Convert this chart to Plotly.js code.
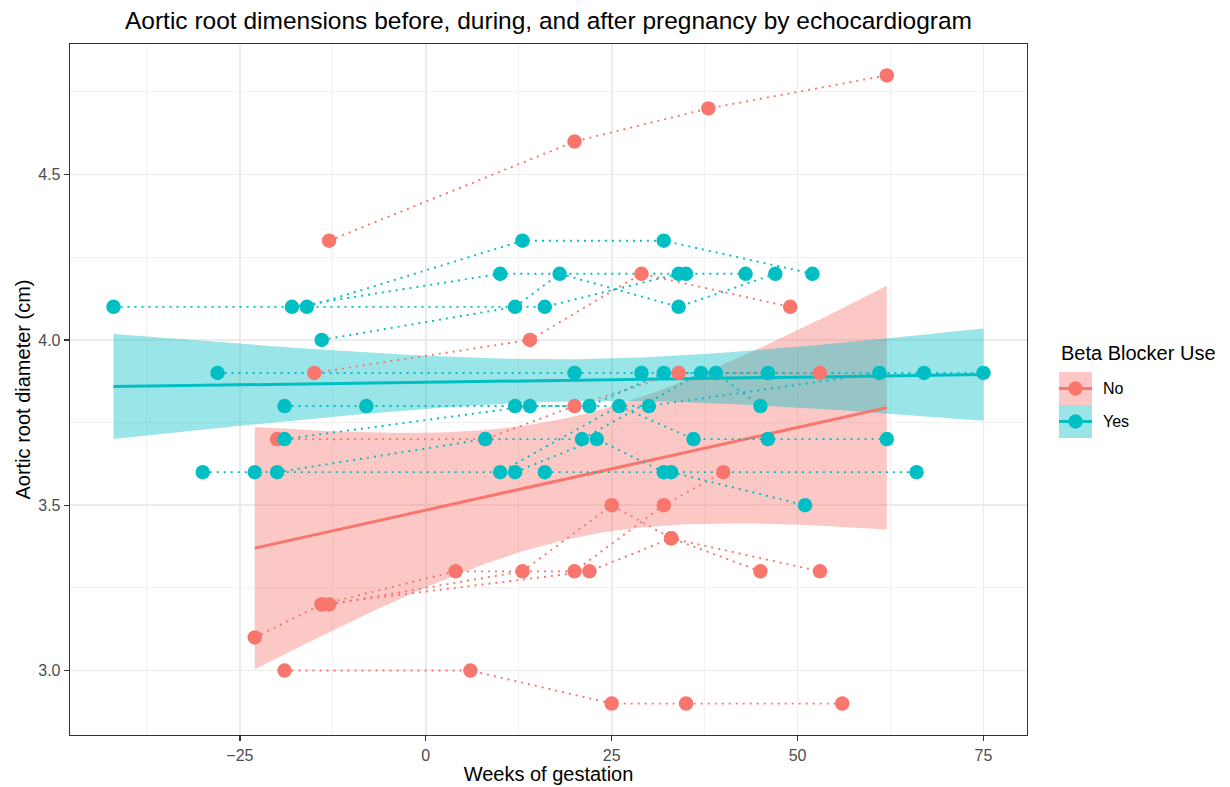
<!DOCTYPE html>
<html><head><meta charset="utf-8">
<script src="https://cdn.plot.ly/plotly-3.0.1.min.js"></script>
<style>html,body{margin:0;padding:0;background:#fff}#chart{width:1230px;height:787px}</style>
</head><body><div id="chart"></div>
<script>
// ---- data (one inner array per patient) ----
const groupNames = ["No", "Yes"];
const groupColors = ["#F8766D", "#00BFC4"];
const ribbonColors = ["rgba(248,118,109,0.4)", "rgba(0,191,196,0.4)"];

// Beta Blocker Use = No
const noWeeks = [[-13,20,38,62],[-15,14,29,49],[-20,8,20,34,53],[-19,6,25,35,56],[-13,13,25,33,45],[-23,-14,4,20,32,40],[-14,22,33,53]];
const noDiam  = [[4.3,4.6,4.7,4.8],[3.9,4.0,4.2,4.1],[3.7,3.7,3.8,3.9,3.9],[3.0,3.0,2.9,2.9,2.9],[3.2,3.3,3.5,3.4,3.3],[3.1,3.2,3.3,3.3,3.5,3.6],[3.2,3.3,3.4,3.3]];

// Beta Blocker Use = Yes
const yesWeeks = [[-16,13,32,52],[-18,10,35,43],[-42,16,34],[-14,12,18,34,47],[-28,20,29,39,45],[-19,-8,12,22,32,46],[-19,14,30,61],[-20,8,21,37,67,75],[-30,-23,10,26,36,46,62],[12,23,32,66],[16,33,51]];
const yesDiam  = [[4.1,4.3,4.3,4.2],[4.1,4.2,4.2,4.2],[4.1,4.1,4.2],[4.0,4.1,4.2,4.1,4.2],[3.9,3.9,3.9,3.9,3.8],[3.8,3.8,3.8,3.8,3.9,3.9],[3.7,3.8,3.8,3.9],[3.6,3.7,3.7,3.9,3.9,3.9],[3.6,3.6,3.6,3.8,3.7,3.7,3.7],[3.6,3.7,3.6,3.6],[3.6,3.6,3.5]];

const xTickVals = [-25, 0, 25, 50, 75];
const yTickVals = [3.0, 3.5, 4.0, 4.5];
const yTickText = ["3.0", "3.5", "4.0", "4.5"];

// ---- linear fit with 95% confidence band (like geom_smooth(method = "lm")) ----
function tQuant(df) {
  const z = 1.959963985;
  const g1 = (Math.pow(z,3) + z) / 4;
  const g2 = (5*Math.pow(z,5) + 16*Math.pow(z,3) + 3*z) / 96;
  const g3 = (3*Math.pow(z,7) + 19*Math.pow(z,5) + 17*Math.pow(z,3) - 15*z) / 384;
  const g4 = (79*Math.pow(z,9) + 776*Math.pow(z,7) + 1482*Math.pow(z,5) - 1920*Math.pow(z,3) - 945*z) / 92160;
  return z + g1/df + g2/(df*df) + g3/Math.pow(df,3) + g4/Math.pow(df,4);
}
function lmBand(wk, dm) {
  const xs = wk.flat(), ys = dm.flat(), n = xs.length;
  const mx = xs.reduce((a,b)=>a+b,0)/n, my = ys.reduce((a,b)=>a+b,0)/n;
  let sxx = 0, sxy = 0;
  for (let i = 0; i < n; i++) { sxx += (xs[i]-mx)**2; sxy += (xs[i]-mx)*(ys[i]-my); }
  const b = sxy/sxx, a = my - b*mx;
  let sse = 0;
  for (let i = 0; i < n; i++) sse += (ys[i] - a - b*xs[i])**2;
  const s = Math.sqrt(sse/(n-2)), t = tQuant(n-2);
  const lo = Math.min(...xs), hi = Math.max(...xs);
  const gx = [], fit = [], up = [], dn = [];
  for (let k = 0; k < 80; k++) {
    const x = lo + (hi-lo)*k/79;
    const f = a + b*x;
    const se = s*Math.sqrt(1/n + (x-mx)**2/sxx);
    gx.push(x); fit.push(f); up.push(f + t*se); dn.push(f - t*se);
  }
  return {gx, fit, up, dn};
}

const allWeeks = [noWeeks, yesWeeks];
const allDiam = [noDiam, yesDiam];
const traces = [];
const bands = allWeeks.map((w,g)=>lmBand(w, allDiam[g]));

// ribbons
bands.forEach((bd,g)=>{
  traces.push({x: bd.gx.concat(bd.gx.slice().reverse()), y: bd.up.concat(bd.dn.slice().reverse()),
    type:"scatter", mode:"lines", fill:"toself", fillcolor: ribbonColors[g], line:{width:0},
    hoverinfo:"skip", showlegend:false});
});
// fitted lines
bands.forEach((bd,g)=>{
  traces.push({x: bd.gx, y: bd.fit, type:"scatter", mode:"lines",
    line:{color: groupColors[g], width:3}, hoverinfo:"skip", showlegend:false});
});
// dotted patient trajectories
allWeeks.forEach((grp,g)=>{
  grp.forEach((wk,p)=>{
    traces.push({x: wk, y: allDiam[g][p], type:"scatter", mode:"lines",
      line:{color: groupColors[g], width:1.9, dash:"2px,5px"}, hoverinfo:"skip", showlegend:false});
  });
});
// points
allWeeks.forEach((grp,g)=>{
  traces.push({x: grp.flat(), y: allDiam[g].flat(), type:"scatter", mode:"markers",
    marker:{color: groupColors[g], size:14.5, line:{width:0}}, name: groupNames[g], showlegend:false});
});

// ---- manual ggplot-style legend (pixel positions converted to paper units) ----
const PL = 70, PR = 1027, PT = 44, PB = 735;
const X = px => (px - PL)/(PR - PL);
const Y = py => (PB - py)/(PB - PT);
const shapes = [], annotations = [];
annotations.push({xref:"paper", yref:"paper", x:X(1059), y:Y(353), xanchor:"left", yanchor:"middle",
  text:"Beta Blocker Use", showarrow:false, font:{size:20, color:"#000", family:"Liberation Sans, Arial, sans-serif"}});
groupNames.forEach((nm,g)=>{
  const top = 372 + g*33, cy = top + 16.5;
  shapes.push({type:"rect", xref:"paper", yref:"paper", x0:X(1059), x1:X(1092), y0:Y(top+33), y1:Y(top),
    fillcolor: ribbonColors[g], line:{width:0}, layer:"above"});
  shapes.push({type:"line", xref:"paper", yref:"paper", x0:X(1059), x1:X(1092), y0:Y(cy), y1:Y(cy),
    line:{color: groupColors[g], width:3}, layer:"above"});
  shapes.push({type:"circle", xref:"paper", yref:"paper", x0:X(1075.5-7.2), x1:X(1075.5+7.2), y0:Y(cy+7.2), y1:Y(cy-7.2),
    fillcolor: groupColors[g], line:{width:0}, layer:"above"});
  annotations.push({xref:"paper", yref:"paper", x:X(1101), y:Y(cy), xanchor:"left", yanchor:"middle",
    text: nm, showarrow:false, font:{size:16, color:"#000", family:"Liberation Sans, Arial, sans-serif"}});
});

const font = "Liberation Sans, Arial, sans-serif";
const layout = {
  width:1230, height:787,
  margin:{l:PL, r:1230-PR, t:PT, b:787-PB, pad:0},
  paper_bgcolor:"#fff", plot_bgcolor:"#fff",
  showlegend:false,
  font:{family:font},
  title:{text:"Aortic root dimensions before, during, and after pregnancy by echocardiogram",
    font:{size:24.5, color:"#000", family:font}, xref:"paper", x:0.5, xanchor:"center",
    yref:"container", y:1-20/787, yanchor:"middle"},
  xaxis:{range:[-47.85, 80.85], tickmode:"array", tickvals:xTickVals, ticks:"outside", ticklen:5,
    tickwidth:1.3, tickcolor:"#333333", tickfont:{size:16, color:"#4D4D4D", family:font},
    showline:true, mirror:true, linecolor:"#333333", linewidth:1.3, zeroline:false,
    showgrid:true, gridcolor:"#EBEBEB", gridwidth:1.6,
    minor:{dtick:12.5, tick0:0, showgrid:true, gridcolor:"#EFEFEF", gridwidth:0.9, ticks:""},
    title:{text:"Weeks of gestation", font:{size:20, color:"#000", family:font}, standoff:4},
    automargin:false},
  yaxis:{range:[2.805, 4.895], tickmode:"array", tickvals:yTickVals, ticktext:yTickText, ticks:"outside", ticklen:5,
    tickwidth:1.3, tickcolor:"#333333", tickfont:{size:16, color:"#4D4D4D", family:font},
    showline:true, mirror:true, linecolor:"#333333", linewidth:1.3, zeroline:false,
    showgrid:true, gridcolor:"#EBEBEB", gridwidth:1.6,
    minor:{dtick:0.25, tick0:3, showgrid:true, gridcolor:"#EFEFEF", gridwidth:0.9, ticks:""},
    title:{text:"Aortic root diameter (cm)", font:{size:20, color:"#000", family:font}, standoff:2},
    automargin:false},
  shapes, annotations
};
Plotly.newPlot("chart", traces, layout, {displayModeBar:false, staticPlot:true});
</script>
</body></html>
